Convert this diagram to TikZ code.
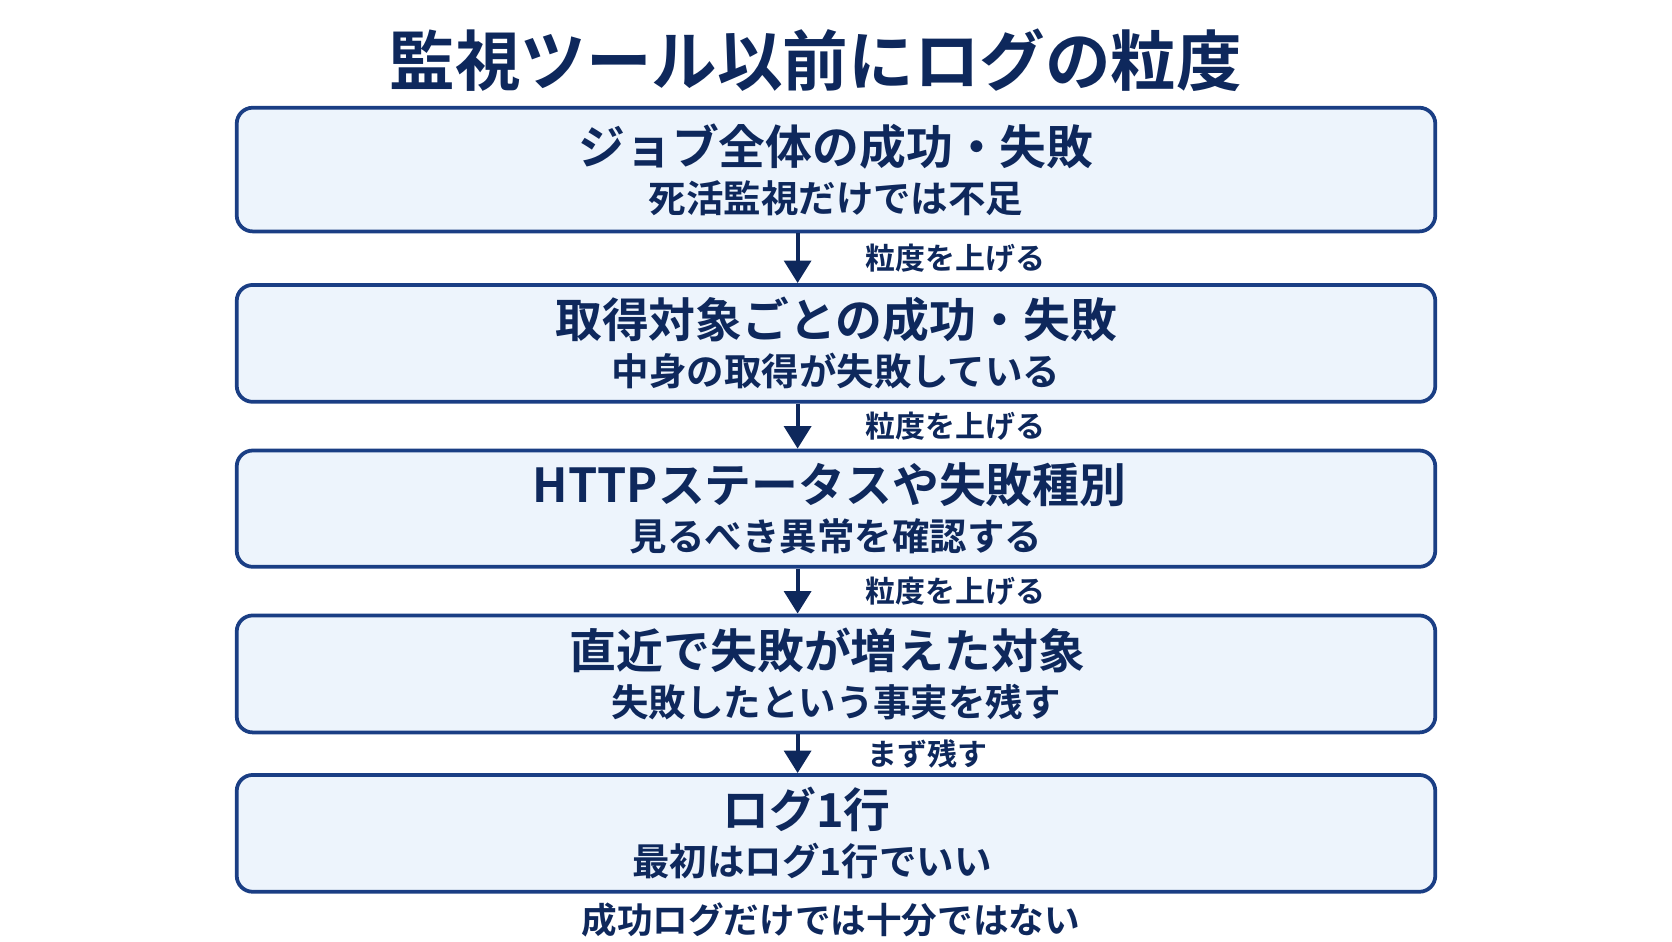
\documentclass[tikz,border=0pt]{standalone}
\usepackage{fontspec}
\setmainfont{Noto Sans CJK JP}[BoldFont = * Bold]
\usepackage{tikz}
\usetikzlibrary{arrows.meta,positioning}

\definecolor{navy}{RGB}{14,40,92}
\definecolor{boxline}{RGB}{26,62,132}
\definecolor{boxfill}{RGB}{237,244,252}

\tikzset{
  stage/.style={draw=boxline, line width=1pt, fill=boxfill, rounded corners=0.15cm,
    minimum width=11.24cm, text=navy, align=center,
    font=\fontsize{10}{12.8}\selectfont\bfseries},
  step label/.style={text=navy, font=\fontsize{8}{10}\selectfont\bfseries, anchor=west},
  arr/.style={draw=navy, line width=1.1pt, -{Triangle[width=0.25cm,length=0.21cm]}},
}
\newcommand{\headline}[1]{{\fontsize{12.5}{15}\selectfont #1}}

\begin{document}
\begin{tikzpicture}
                    \useasboundingbox (0,0) rectangle (15.68,-8.825);

                    \node[text=navy, font=\fontsize{17.5}{20}\selectfont\bfseries] (title) at (7.65,-0.56) {監視ツール以前にログの粒度};

                    \node[stage, minimum height=1.16cm] (job) at (7.84,-1.59)
                        {\headline{ジョブ全体の成功・失敗}\\死活監視だけでは不足};
                    \node[stage, minimum height=1.08cm] (target) at (7.84,-3.22)
                        {\headline{取得対象ごとの成功・失敗}\\中身の取得が失敗している};
                    \node[stage, minimum height=1.06cm] (http) at (7.84,-4.77)
                        {\hspace*{-0.12cm}\headline{HTTPステータスや失敗種別}\\見るべき異常を確認する};
                    \node[stage, minimum height=1.06cm] (recent) at (7.84,-6.32)
                        {\hspace*{-0.16cm}\headline{直近で失敗が増えた対象}\\失敗したという事実を残す};
                    \node[stage, minimum height=1.01cm] (logline) at (7.84,-7.815)
                        {\hspace*{-0.55cm}\headline{ログ1行}\\\hspace*{-0.45cm}最初はログ1行でいい};

                    \draw[arr] ([xshift=-0.36cm]job.south) -- node[step label, right=0.5cm] (up1) {粒度を上げる} ([xshift=-0.36cm]target.north);
                    \draw[arr] ([xshift=-0.36cm]target.south) -- node[step label, right=0.5cm] (up2) {粒度を上げる} ([xshift=-0.36cm]http.north);
                    \draw[arr] ([xshift=-0.36cm]http.south) -- node[step label, right=0.5cm] (up3) {粒度を上げる} ([xshift=-0.36cm]recent.north);
                    \draw[arr] ([xshift=-0.36cm]recent.south) -- node[step label, right=0.52cm] (keep) {まず残す} ([xshift=-0.36cm]logline.north);

                    \node[text=navy, inner sep=0pt, font=\fontsize{9.5}{11}\selectfont\bfseries, below=0.08cm of logline, xshift=-0.05cm] (note) {成功ログだけでは十分ではない};
\end{tikzpicture}
\end{document}
